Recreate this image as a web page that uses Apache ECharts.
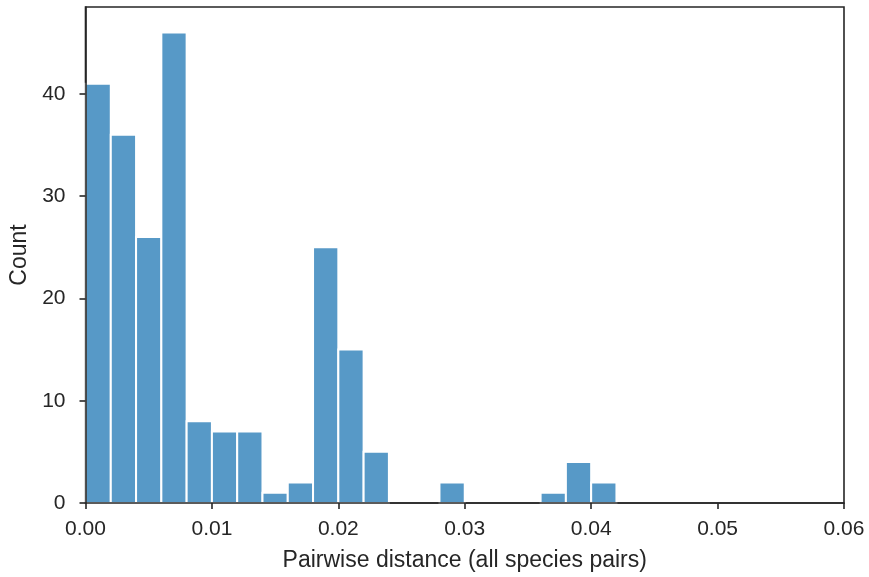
<!DOCTYPE html>
<html>
<head>
<meta charset="utf-8">
<script src="https://cdn.jsdelivr.net/npm/echarts@6/dist/echarts.min.js"></script>
<style>
  html, body { margin: 0; padding: 0; background: #ffffff; }
  #chart { width: 869px; height: 577px; }
</style>
</head>
<body>
<div id="chart"></div>
<script>
// Histogram of pairwise distances: bin edges (width 0.002) and counts per bin
const binStarts = [0.000, 0.002, 0.004, 0.006, 0.008, 0.010, 0.012, 0.014, 0.016, 0.018,
                   0.020, 0.022, 0.024, 0.026, 0.028, 0.030, 0.032, 0.034, 0.036, 0.038, 0.040];
const binWidth = 0.002;
const counts = [41, 36, 26, 46, 8, 7, 7, 1, 2, 25,
                15, 5, 0, 0, 2, 0, 0, 0, 1, 4, 2];
const xTicks = [0, 0.01, 0.02, 0.03, 0.04, 0.05, 0.06];
const yTicks = [0, 10, 20, 30, 40];

const barData = binStarts.map((s, i) => [s, s + binWidth, counts[i]]).filter(d => d[2] > 0);

const FONT = 'Liberation Sans, Arial, sans-serif';
const INK = '#262626';
const chart = echarts.init(document.getElementById('chart'), null, { renderer: 'canvas' });

chart.setOption({
  backgroundColor: '#ffffff',
  animation: false,
  grid: {
    left: 85.5, right: 25, top: 7, bottom: 74,
    show: true, borderColor: INK, borderWidth: 1.6, backgroundColor: 'transparent'
  },
  xAxis: {
    type: 'value', min: 0, max: 0.06, interval: 0.01, z: 10,
    name: 'Pairwise distance (all species pairs)',
    nameLocation: 'middle', nameGap: 46,
    nameTextStyle: { fontFamily: FONT, fontSize: 23, color: INK },
    axisLine: { show: true, lineStyle: { color: INK, width: 1.6 } },
    axisTick: { show: true, length: 6, lineStyle: { color: INK, width: 1.6 }, customValues: xTicks },
    axisLabel: {
      fontFamily: FONT, fontSize: 21, color: INK, margin: 16,
      customValues: xTicks,
      formatter: v => v.toFixed(2)
    },
    splitLine: { show: false }
  },
  yAxis: {
    type: 'value', min: 0, max: 48.5, z: 10,
    name: 'Count', nameLocation: 'middle', nameGap: 49,
    nameTextStyle: { fontFamily: FONT, fontSize: 23, color: INK },
    axisLine: { show: true, lineStyle: { color: INK, width: 1.6 } },
    axisTick: { show: true, length: 6, lineStyle: { color: INK, width: 1.6 }, customValues: yTicks },
    axisLabel: {
      fontFamily: FONT, fontSize: 21, color: INK, margin: 20,
      customValues: yTicks
    },
    splitLine: { show: false }
  },
  series: [{
    type: 'custom',
    data: barData,
    encode: { x: [0, 1], y: 2 },
    renderItem: function (params, api) {
      const p0 = api.coord([api.value(0), api.value(2)]);
      const p1 = api.coord([api.value(1), 0]);
      return {
        type: 'rect',
        shape: { x: p0[0], y: p0[1], width: p1[0] - p0[0], height: p1[1] - p0[1] },
        style: { fill: '#5799c7', stroke: '#ffffff', lineWidth: 2 }
      };
    }
  }]
});
</script>
</body>
</html>
